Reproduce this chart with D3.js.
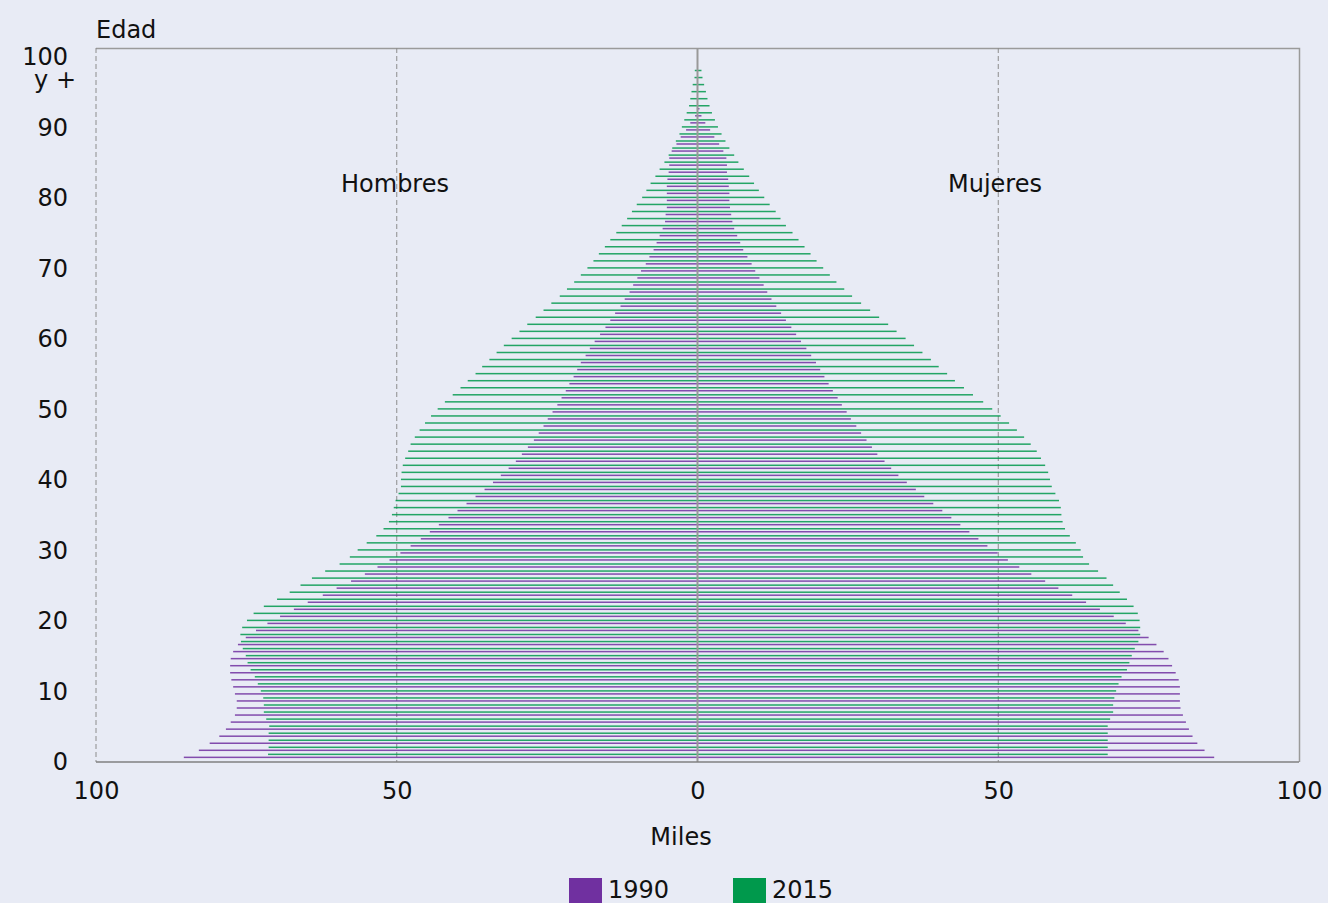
<!DOCTYPE html>
<html lang="es">
<head>
  <meta charset="utf-8">
  <title>Pirámide de población</title>
  <script src="https://d3js.org/d3.v7.min.js"></script>
  <style>
    body { margin: 0; background: #e8ebf5; }
    text { font-family: "DejaVu Sans", sans-serif; font-size: 24px; fill: #111; }
  </style>
</head>
<body>
<script>

    var width = 1328, height = 903;

    // edades 0 .. 100 (100 = "100 y +")
    var ages = d3.range(0, 101);
    var years = ["1990", "2015"];
    var xTicks = [-100, -50, 0, 50, 100];
    var yTicks = [0, 10, 20, 30, 40, 50, 60, 70, 80, 90, 100];

    // miles de personas
    var men1990 = [85.4, 82.9, 81.1, 79.5, 78.4, 77.6, 76.9, 76.6, 76.6, 76.9,
                   77.2, 77.5, 77.7, 77.7, 77.6, 77.2, 76.4, 75.1, 73.4, 71.5,
                   69.4, 67.1, 64.8, 62.3, 60.0, 57.6, 55.3, 53.2, 51.2, 49.4,
                   47.7, 46.0, 44.5, 43.0, 41.4, 39.9, 38.4, 36.9, 35.4, 34.0,
                   32.7, 31.4, 30.2, 29.2, 28.2, 27.2, 26.4, 25.6, 24.9, 24.1,
                   23.3, 22.6, 21.9, 21.3, 20.6, 20.0, 19.4, 18.6, 17.9, 17.1,
                   16.2, 15.3, 14.5, 13.7, 12.8, 12.1, 11.3, 10.7, 10.0, 9.4,
                   8.6, 8.0, 7.3, 6.8, 6.3, 5.8, 5.4, 5.3, 5.1, 5.1,
                   5.1, 5.1, 5.0, 4.8, 4.7, 4.7, 4.3, 3.5, 2.8, 1.9,
                   1.2, 0.4, 0.1, 0, 0, 0, 0, 0, 0, 0,
                   0];
    var men2015 = [71.4, 71.3, 71.3, 71.3, 71.2, 71.7, 72.1, 72.1, 72.2, 72.6,
                   73.1, 73.6, 74.3, 74.8, 75.1, 75.6, 75.9, 76.0, 75.7, 74.9,
                   73.8, 72.1, 69.9, 67.8, 66.0, 64.1, 61.9, 59.5, 57.8, 56.5,
                   55.0, 53.4, 52.2, 51.3, 50.8, 50.5, 50.2, 49.7, 49.3, 49.3,
                   49.2, 49.0, 48.6, 48.1, 47.7, 47.0, 46.2, 45.3, 44.3, 43.2,
                   42.0, 40.7, 39.4, 38.2, 36.9, 35.8, 34.6, 33.4, 32.2, 30.9,
                   29.6, 28.3, 26.9, 25.6, 24.3, 22.9, 21.7, 20.5, 19.4, 18.3,
                   17.3, 16.4, 15.4, 14.5, 13.5, 12.6, 11.7, 10.9, 10.1, 9.2,
                   8.5, 7.8, 7.0, 6.3, 5.5, 4.8, 4.2, 3.6, 3.0, 2.6,
                   2.2, 1.8, 1.4, 1.2, 1.0, 0.8, 0.5, 0.45, 0, 0,
                   0];
    var women1990 = [85.9, 84.3, 83.1, 82.3, 81.7, 81.2, 80.7, 80.3, 80.2, 80.2,
                     80.2, 80.0, 79.5, 78.9, 78.3, 77.5, 76.3, 75.0, 73.3, 71.2,
                     69.2, 66.9, 64.6, 62.3, 60.0, 57.8, 55.5, 53.5, 51.6, 49.9,
                     48.2, 46.7, 45.2, 43.7, 42.2, 40.7, 39.2, 37.7, 36.3, 34.8,
                     33.4, 32.2, 31.1, 29.9, 29.0, 28.1, 27.2, 26.4, 25.5, 24.8,
                     24.0, 23.3, 22.5, 21.8, 21.1, 20.4, 19.7, 18.9, 18.1, 17.2,
                     16.4, 15.6, 14.7, 13.9, 13.1, 12.3, 11.6, 11.0, 10.3, 9.6,
                     9.0, 8.3, 7.6, 7.1, 6.6, 6.1, 5.8, 5.6, 5.4, 5.3,
                     5.3, 5.2, 5.1, 4.9, 4.9, 4.8, 4.3, 3.6, 2.8, 2.1,
                     1.3, 0.66, 0.33, 0, 0, 0, 0, 0, 0, 0,
                     0];
    var women2015 = [68.2, 68.2, 68.2, 68.2, 68.2, 68.6, 69.1, 69.1, 69.3, 69.6,
                     70.0, 70.5, 71.4, 71.8, 72.2, 72.7, 73.3, 73.6, 73.6, 73.5,
                     73.2, 72.5, 71.4, 70.2, 69.1, 68.0, 66.6, 65.1, 64.1, 63.7,
                     62.9, 61.9, 61.1, 60.7, 60.5, 60.4, 60.1, 59.5, 58.9, 58.6,
                     58.3, 57.8, 57.1, 56.4, 55.4, 54.3, 53.1, 51.8, 50.4, 49.0,
                     47.5, 45.8, 44.3, 42.8, 41.5, 40.1, 38.8, 37.4, 36.0, 34.6,
                     33.1, 31.7, 30.2, 28.7, 27.2, 25.7, 24.4, 23.1, 22.0, 20.9,
                     19.8, 18.8, 17.8, 16.8, 15.8, 14.7, 13.8, 13.0, 12.0, 11.1,
                     10.2, 9.4, 8.6, 7.7, 6.8, 6.1, 5.3, 4.65, 4.0, 3.4,
                     2.9, 2.4, 2.0, 1.66, 1.4, 1.1, 0.83, 0.66, 0, 0,
                     0];

    var colors = d3.scaleOrdinal().domain(years).range(["#7030a0", "#00994c"]);

    var plotLeft = 96, plotRight = 1299, plotTop = 48, plotBottom = 762;

    var svg = d3.select("body").append("svg")
                .attr("width", width).attr("height", height)
                .style("display", "block")
                .style("background", "#e8ebf5");

    var x = d3.scaleLinear().domain([-100, 100]).range([plotLeft, plotRight]);
    var y = d3.scaleLinear().domain([0, 100]).range([plotBottom, 57]);

    // frame (top and right solid)
    svg.append("path")
       .attr("d", "M" + plotLeft + "," + (plotTop + 0.5) + "H" + (plotRight + 0.5) + "V" + plotBottom)
       .attr("fill", "none").attr("stroke", "#9a9a9a").attr("stroke-width", 1.5);

    // dashed grid at +-50 and left edge
    svg.selectAll(".grid").data([-100, -50, 50]).enter().append("line")
       .attr("x1", function(d){ return x(d); }).attr("x2", function(d){ return x(d); })
       .attr("y1", plotTop).attr("y2", plotBottom)
       .attr("stroke", "#8c8c8c").attr("stroke-width", 1)
       .attr("stroke-dasharray", "5,3");

    // bars
    var rows = [];
    ages.forEach(function(a, i) {
        rows.push({age: a, year: "1990", side: -1, v: men1990[i]});
        rows.push({age: a, year: "2015", side: -1, v: men2015[i]});
        rows.push({age: a, year: "1990", side: 1, v: women1990[i]});
        rows.push({age: a, year: "2015", side: 1, v: women2015[i]});
    });
    var offset = {"1990": 5.4, "2015": 8.4};

    svg.append("g").selectAll("rect").data(rows.filter(function(d){ return d.v > 0; }))
       .enter().append("rect")
       .attr("x", function(d){ return d.side < 0 ? x(-d.v) : x(0); })
       .attr("width", function(d){ return Math.abs(x(d.side * d.v) - x(0)); })
       .attr("y", function(d){ return y(d.age) - offset[d.year]; })
       .attr("height", 1.5)
       .attr("fill", function(d){ return colors(d.year); })
       .attr("opacity", 0.85);

    // center line
    svg.append("line")
       .attr("x1", x(0)).attr("x2", x(0)).attr("y1", plotTop).attr("y2", plotBottom)
       .attr("stroke", "#999").attr("stroke-width", 2);

    // bottom axis line
    svg.append("line")
       .attr("x1", plotLeft).attr("x2", plotRight).attr("y1", plotBottom).attr("y2", plotBottom)
       .attr("stroke", "#808080").attr("stroke-width", 1.5);

    var xAxis = d3.axisBottom(x).tickValues(xTicks).tickSize(0).tickPadding(20)
                  .tickFormat(function(d){ return Math.abs(d); });
    var gx = svg.append("g").attr("transform", "translate(0," + plotBottom + ")").call(xAxis);
    gx.select(".domain").remove();

    var yAxis = d3.axisLeft(y).tickValues(yTicks).tickSize(0).tickPadding(28);
    var gy = svg.append("g").attr("transform", "translate(" + plotLeft + ",0)").call(yAxis);
    gy.select(".domain").remove();

    svg.selectAll(".tick text").style("font-size", "24px")
       .style("font-family", "'DejaVu Sans', sans-serif").attr("fill", "#111");

    svg.append("text").attr("x", 76).attr("y", 88).attr("text-anchor", "end").text("y +");
    svg.append("text").attr("x", plotLeft).attr("y", 38).text("Edad");
    svg.append("text").attr("x", 681).attr("y", 845).attr("text-anchor", "middle").text("Miles");
    svg.append("text").attr("x", 395).attr("y", 192).attr("text-anchor", "middle").text("Hombres");
    svg.append("text").attr("x", 995).attr("y", 192).attr("text-anchor", "middle").text("Mujeres");

    // legend
    var legend = svg.append("g").selectAll("g").data(years).enter().append("g")
                    .attr("transform", function(d, i){ return "translate(" + (569 + i * 164) + ",878)"; });
    legend.append("rect").attr("width", 33).attr("height", 25)
          .attr("fill", function(d){ return colors(d); });
    legend.append("text").attr("x", 39).attr("y", 20).text(function(d){ return d; });

</script>
</body>
</html>
